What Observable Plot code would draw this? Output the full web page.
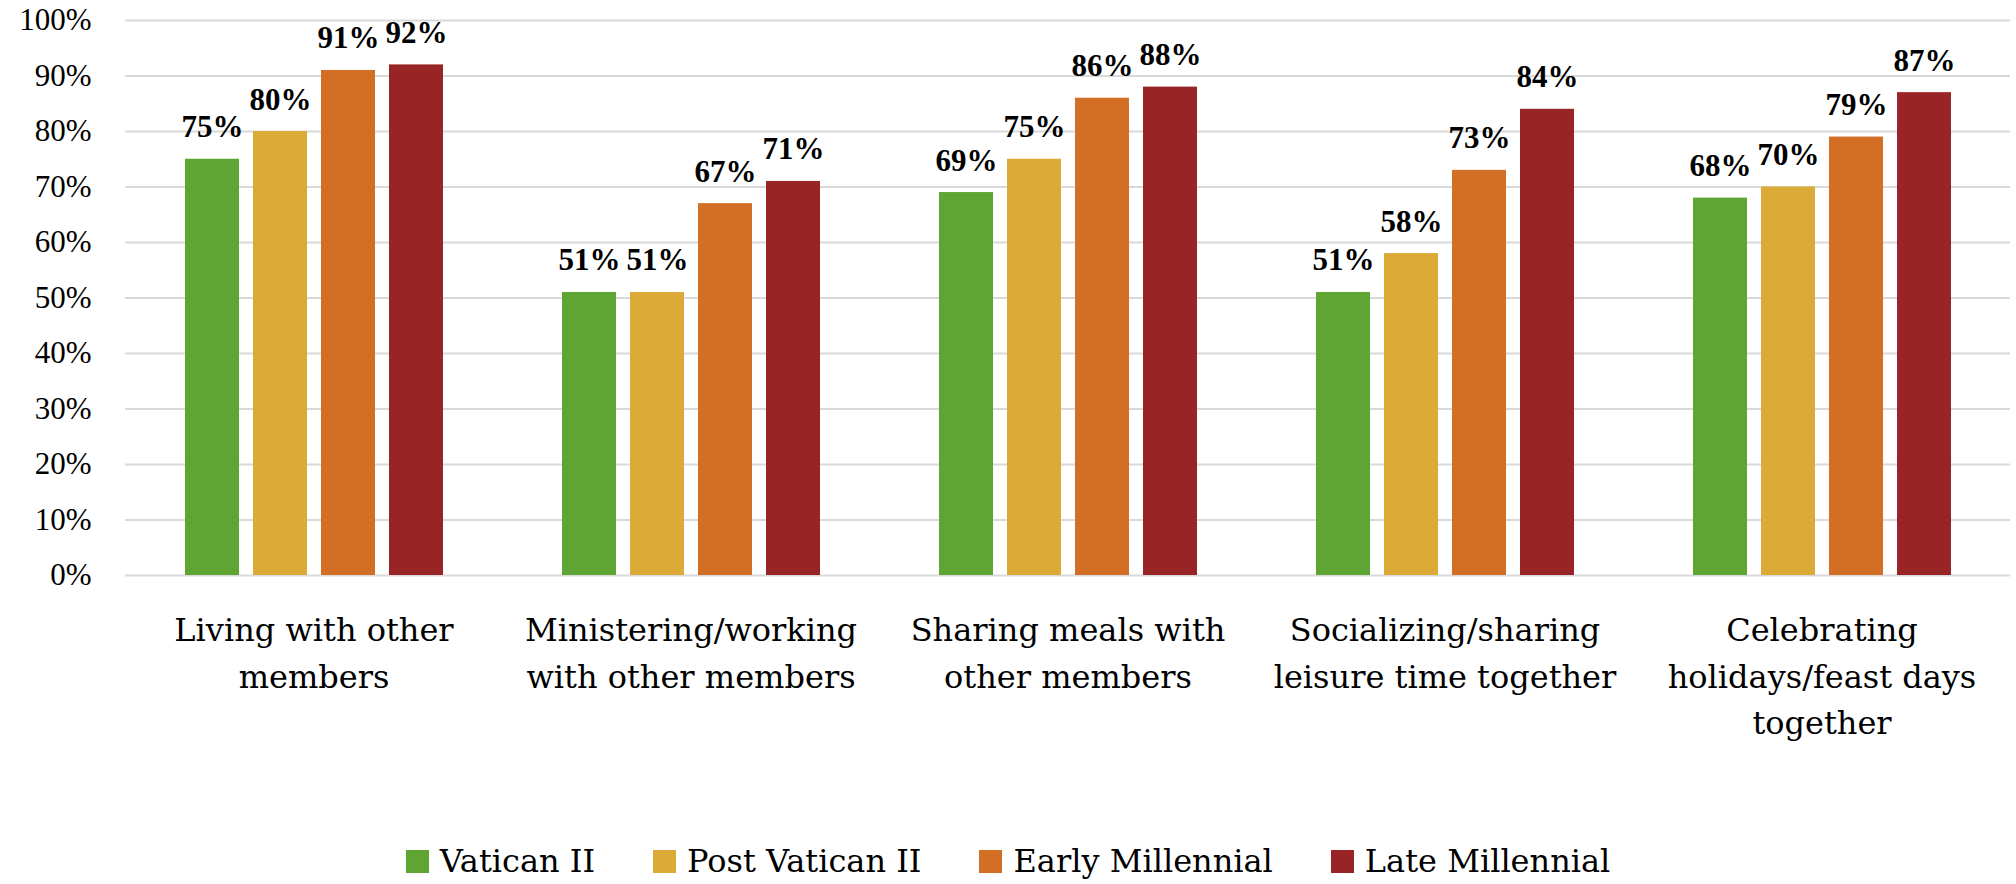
<!DOCTYPE html>
<html>
<head>
<meta charset="utf-8">
<script src="https://cdn.jsdelivr.net/npm/d3@7"></script>
<script src="https://cdn.jsdelivr.net/npm/@observablehq/plot@0.6"></script>
<style>
  html, body { margin: 0; padding: 0; background: #fff; }
  #chart { width: 2016px; }
  #chart svg g[aria-label="y-axis tick label"],
  #chart svg g[aria-label="y-axis tick label"] text,
  #chart svg g[aria-label="text"],
  #chart svg g[aria-label="text"] text { font-family: "Liberation Serif", "Times New Roman", serif !important; }
  #chart svg g[aria-label="fx-axis tick label"],
  #chart svg g[aria-label="fx-axis tick label"] text { font-family: "DejaVu Serif", serif !important; }
  .lg-swatches { font-family: "DejaVu Serif", serif !important; font-size: 32px !important; color: #000 !important; display: flex !important; justify-content: center; margin: 0 !important; padding-top: 42px; min-height: 0 !important; }
  .lg-swatch { margin-right: 58px !important; }
  .lg-swatch:last-child { margin-right: 0 !important; }
  .lg-swatch svg { margin-right: 11px !important; }
</style>
</head>
<body>
<div id="chart"></div>
<script>
const categories = [
  "Living with other members",
  "Ministering/working with other members",
  "Sharing meals with other members",
  "Socializing/sharing leisure time together",
  "Celebrating holidays/feast days together"
];
const categoryTickLabels = [
  "Living with other\nmembers",
  "Ministering/working\nwith other members",
  "Sharing meals with\nother members",
  "Socializing/sharing\nleisure time together",
  "Celebrating\nholidays/feast days\ntogether"
];
const series = ["Vatican II", "Post Vatican II", "Early Millennial", "Late Millennial"];
const seriesColors = ["#5fa533", "#dcab37", "#d36f25", "#982425"];

const vaticanII = [75, 51, 69, 51, 68];
const postVaticanII = [80, 51, 75, 58, 70];
const earlyMillennial = [91, 67, 86, 73, 79];
const lateMillennial = [92, 71, 88, 84, 87];

const yTicks = [0, 0.1, 0.2, 0.3, 0.4, 0.5, 0.6, 0.7, 0.8, 0.9, 1.0];

const seriesValues = [vaticanII, postVaticanII, earlyMillennial, lateMillennial];
const data = [];
categories.forEach((c, i) => {
  series.forEach((s, j) => {
    data.push({category: c, series: s, value: seriesValues[j][i] / 100});
  });
});

const numFont = "Liberation Serif";
const wordFont = "DejaVu Serif";

const plot = Plot.plot({
  width: 2016,
  height: 800,
  marginTop: 20,
  marginBottom: 225,
  marginLeft: 123,
  marginRight: 5,
  style: {color: "#000", background: "#fff"},
  fx: {domain: categories, padding: 0},
  x: {domain: series, paddingInner: 0.212, paddingOuter: 0.86, axis: null},
  y: {domain: [0, 1]},
  color: {domain: series, range: seriesColors},
  marks: [
    Plot.gridY(yTicks, {stroke: "#d9d9d9", strokeOpacity: 1, strokeWidth: 2}),
    Plot.axisY(yTicks, {tickSize: 0, tickPadding: 34, fontSize: 31, fontFamily: numFont, tickFormat: d3.format(".0%"), label: null}),
    Plot.axisFx({
      anchor: "bottom",
      tickSize: 0, tickPadding: 33, fontSize: 32, lineHeight: 1.45,
      fontFamily: wordFont,
      tickFormat: d => categoryTickLabels[categories.indexOf(d)], label: null
    }),
    Plot.barY(data, {fx: "category", x: "series", y: "value", fill: "series"}),
    Plot.text(data, {
      fx: "category", x: "series", y: "value",
      text: d => d3.format(".0%")(d.value),
      lineAnchor: "bottom", dy: -22,
      fontSize: 31, fontWeight: "bold", fontFamily: numFont, fill: "#000"
    })
  ]
});
document.getElementById("chart").appendChild(plot);
const legend = plot.legend("color", {swatchSize: 23, className: "lg"});
document.getElementById("chart").appendChild(legend);
</script>
</body>
</html>
